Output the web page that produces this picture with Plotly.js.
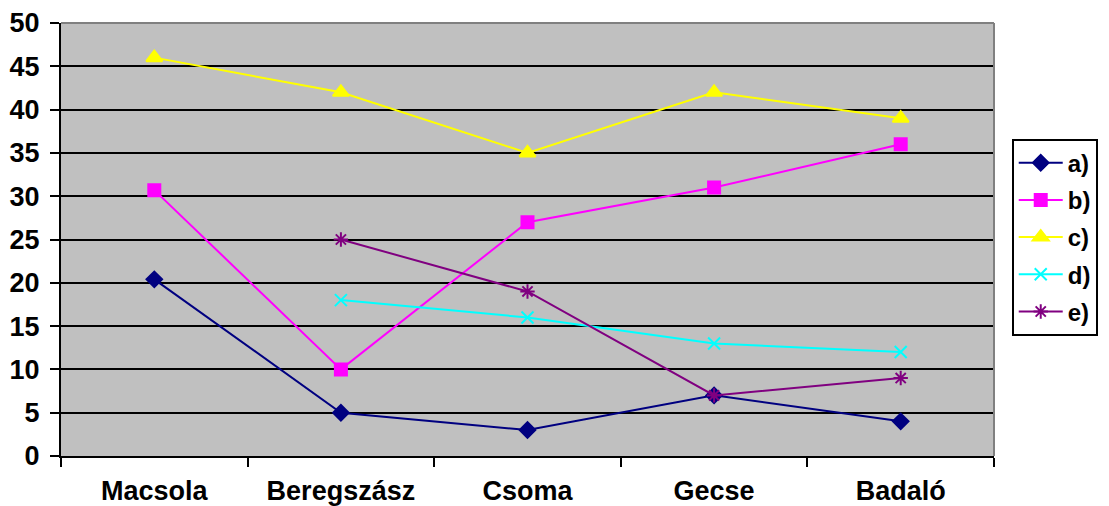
<!DOCTYPE html>
<html><head><meta charset="utf-8">
<script src="https://cdn.plot.ly/plotly-3.0.1.min.js"></script>
<style>body{margin:0;background:#fff}#c{width:1109px;height:506px}</style>
</head><body><div id="c"></div>
<script>
const categories = ["Macsola","Beregszász","Csoma","Gecse","Badaló"];
const seriesA = [20.4, 5, 3, 7, 4];
const seriesB = [30.7, 10, 27, 31, 36];
const seriesC = [46, 42, 35, 42, 39];
const seriesD = [null, 18, 16, 13, 12];
const seriesE = [null, 25, 19, 7, 9];
const names = ["a)","b)","c)","d)","e)"];
const yTicks = [0,5,10,15,20,25,30,35,40,45,50];

const specs = [
  {y: seriesA, color: "#000080", symbol: "diamond", size: 12},
  {y: seriesB, color: "#FF00FF", symbol: "square", size: 12},
  {y: seriesC, color: "#FFFF00", symbol: "triangle-up", size: 14},
  {y: seriesD, color: "#00FFFF", symbol: "x-thin-open", size: 12},
  {y: seriesE, color: "#800080", symbol: "asterisk-open", size: 12}
];
const data = specs.map((s,i)=>({
  type: "scatter", mode: "lines+markers", x: categories, y: s.y, name: names[i],
  legendgroup: "g" + i,
  connectgaps: false,
  line: {color: s.color, width: 2},
  marker: {color: s.color, symbol: s.symbol, size: s.size, line: {color: s.color, width: 2}}
}));

const layout = {
  width: 1109, height: 506,
  margin: {l: 61, r: 115, t: 23, b: 50, autoexpand: false},
  paper_bgcolor: "#ffffff", plot_bgcolor: "#C0C0C0",
  font: {family: "Arial, Liberation Sans, sans-serif", color: "#000", size: 26},
  showlegend: true,
  legend: {x: 1.019, y: 0.733, xanchor: "left", yanchor: "top",
    bordercolor: "#000", borderwidth: 2, bgcolor: "#fff",
    font: {size: 24, family: "Arial, Liberation Sans, sans-serif", weight: "bold"},
    itemwidth: 44, tracegroupgap: 3},
  xaxis: {type: "category", tickson: "boundaries", ticks: "outside", ticklen: 9, tickwidth: 2,
    tickcolor: "#000", showline: true, linecolor: "#000", linewidth: 2, showgrid: false,
    tickfont: {size: 27, weight: "bold"}, ticklabelstandoff: 10, range: [-0.5, 4.5], fixedrange: true},
  yaxis: {range: [0, 50], tickvals: yTicks, ticks: "outside", ticklen: 9, tickwidth: 2,
    tickcolor: "#000", showline: true, linecolor: "#000", linewidth: 2,
    showgrid: true, gridcolor: "#000", gridwidth: 2, zeroline: false,
    tickfont: {size: 27, weight: "bold"}, ticklabelstandoff: 5},
  shapes: [
    {type: "line", xref: "paper", yref: "paper", x0: 0, x1: 1, y0: 1, y1: 1, line: {color: "#808080", width: 2}},
    {type: "line", xref: "paper", yref: "paper", x0: 1, x1: 1, y0: 0, y1: 1, line: {color: "#808080", width: 2}}
  ]
};
Plotly.newPlot("c", data, layout, {displayModeBar: false, staticPlot: true});
</script></body></html>
